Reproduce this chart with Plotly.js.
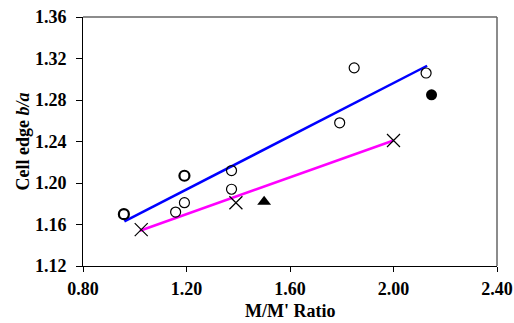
<!DOCTYPE html>
<html>
<head>
<meta charset="utf-8">
<script src="https://cdn.plot.ly/plotly-3.0.1.min.js"></script>
<style>html,body{margin:0;padding:0;background:#fff;}#chart{width:514px;height:323px;}</style>
</head>
<body>
<div id="chart"></div>
<script>
// Open circles
const openX = [1.158, 1.192, 1.374, 1.374, 1.792, 1.848, 2.126];
const openY = [1.172, 1.181, 1.212, 1.194, 1.258, 1.311, 1.306];
// Open circles drawn bold (overlapping points)
const boldX = [0.958, 1.192];
const boldY = [1.170, 1.207];
// Crosses
const crossX = [1.025, 1.391, 2.000];
const crossY = [1.155, 1.181, 1.241];
// Filled triangle
const triX = [1.50];
const triY = [1.182];
// Filled circle
const dotX = [2.147];
const dotY = [1.285];
// Trend lines
const blueX = [0.96, 2.13];
const blueY = [1.163, 1.313];
const pinkX = [1.02, 2.00];
const pinkY = [1.154, 1.241];
// Ticks
const xTicks = [0.80, 1.20, 1.60, 2.00, 2.40];
const yTicks = [1.12, 1.16, 1.20, 1.24, 1.28, 1.32, 1.36];
const xTitle = "M/M' Ratio";
const yTitle = 'Cell edge <i>b/a</i>';

const traces = [
  {x: blueX, y: blueY, mode: 'lines', line: {color: '#0000ff', width: 2.5}, hoverinfo: 'skip'},
  {x: pinkX, y: pinkY, mode: 'lines', line: {color: '#ff00ff', width: 2.5}, hoverinfo: 'skip'},
  {x: openX, y: openY, mode: 'markers', marker: {symbol: 'circle-open', size: 10, color: '#000', line: {width: 1.2, color: '#000'}}},
  {x: boldX, y: boldY, mode: 'markers', marker: {symbol: 'circle-open', size: 10, color: '#000', line: {width: 2.2, color: '#000'}}},
  {x: crossX, y: crossY, mode: 'markers', marker: {symbol: 'x-thin-open', size: 13, color: '#000', line: {width: 1.2, color: '#000'}}},
  {x: triX, y: triY, mode: 'markers', marker: {symbol: 'triangle-up', size: 12, color: '#000'}},
  {x: dotX, y: dotY, mode: 'markers', marker: {symbol: 'circle', size: 11, color: '#000'}}
];

const tickFont = {family: 'Liberation Serif, Times New Roman, serif', size: 18, color: '#000', weight: 'bold'};
const titleFont = {family: 'Liberation Serif, Times New Roman, serif', size: 18, color: '#000', weight: 'bold'};

const layout = {
  width: 514, height: 323,
  margin: {l: 83, r: 17, t: 16.5, b: 57},
  showlegend: false,
  paper_bgcolor: '#fff', plot_bgcolor: '#fff',
  xaxis: {
    range: [0.8, 2.4], tickvals: xTicks, ticktext: xTicks.map(v => v.toFixed(2)),
    showgrid: false, zeroline: false, showline: true, linecolor: '#000', linewidth: 1,
    ticks: 'outside', ticklen: 5, tickcolor: '#000', tickfont: tickFont, ticklabelstandoff: 1
  },
  yaxis: {
    range: [1.12, 1.36], tickvals: yTicks, ticktext: yTicks.map(v => v.toFixed(2)),
    showgrid: false, zeroline: false, showline: true, linecolor: '#000', linewidth: 1,
    ticks: 'outside', ticklen: 6, tickcolor: '#000', tickfont: tickFont, ticklabelstandoff: 6,
    title: {text: yTitle, font: titleFont, standoff: 0}
  },
  annotations: [
    {text: xTitle, xref: 'paper', yref: 'paper', x: 0.5, y: 0, xanchor: 'center', yanchor: 'top',
     yshift: -34, showarrow: false, borderpad: 0, font: titleFont}
  ],
  shapes: [
    {type: 'line', xref: 'paper', yref: 'paper', x0: 0, x1: 1, y0: 1, y1: 1, line: {color: '#666', width: 1.5}},
    {type: 'line', xref: 'paper', yref: 'paper', x0: 1, x1: 1, y0: 0, y1: 1, line: {color: '#666', width: 1.5}}
  ]
};

Plotly.newPlot('chart', traces, layout, {displayModeBar: false, staticPlot: true});
</script>
</body>
</html>
